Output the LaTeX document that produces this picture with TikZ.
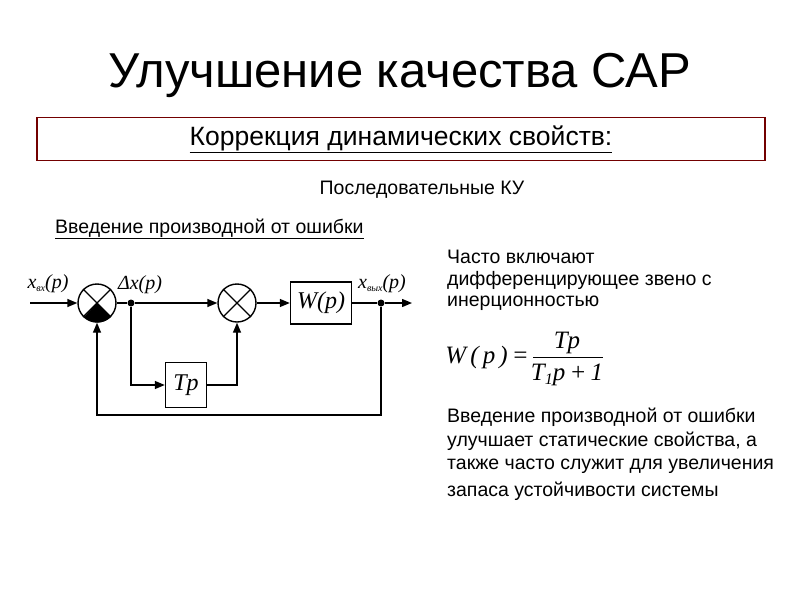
\documentclass[tikz,border=0pt]{standalone}
\usepackage{fontspec}
\setmainfont{Liberation Sans}
\newfontfamily\tms{Liberation Serif}
\usetikzlibrary{arrows.meta}
\begin{document}
\begin{tikzpicture}[x=1pt,y=-1pt,
  blk/.style={draw,line width=1.4pt,minimum width=#1,inner sep=0pt},
  sumc/.style={draw,circle,line width=1.4pt,minimum size=38pt,inner sep=0pt},
  ln/.style={line width=1.4pt},
  ar/.style={ln,-{Triangle[length=10pt,width=8pt]}},
  dotc/.style={circle,fill,inner sep=0pt,minimum size=7pt},
  fml/.style={font=\fontsize{25}{27}\selectfont\tms\itshape,inner sep=0pt},
  txt/.style={anchor=west,font=\fontsize{19.5}{22}\selectfont,inner sep=0pt}]
\useasboundingbox (0,0) rectangle (800,600);
\node[font=\fontsize{49}{52}\selectfont] (title) at (400,75) {Улучшение качества САР};
\node[draw=red!45!black,line width=1.5pt,minimum width=728pt,minimum height=43pt,font=\fontsize{26.5}{28}\selectfont] (box) at (401,139) {\underline{Коррекция динамических свойств:}};
\node[font=\fontsize{19.5}{22}\selectfont] (seq) at (422,190) {Последовательные КУ};
\node[txt] (intro) at (55,229) {\underline{Введение производной от ошибки}};
\node[txt] (l1) at (447,257) {Часто включают};
\node[txt] (l2) at (447,280) {дифференцирующее звено с};
\node[txt] (l3) at (447,303) {инерционностью};
\node[fml,anchor=east] (fl) at (529,357) {W\,(\,p\,)\,=};
\node[fml] (fn) at (567,343) {Tp};
\node[fml] (fd) at (567,375) {T\raisebox{-4pt}{\fontsize{16}{16}\selectfont 1}p\,+\,1};
\draw[line width=1pt] ([xshift=4pt]fl.east) -- (603,357);
\node[txt] (b1) at (447,417) {Введение производной от ошибки};
\node[txt] (b2) at (447,441) {улучшает статические свойства, а};
\node[txt] (b3) at (447,466) {также часто служит для увеличения};
\node[txt] (b4) at (447,491) {запаса устойчивости системы};
% diagram
\coordinate (in) at (30,303);
\node[sumc] (s1) at (97,303) {};
\fill (s1.center) -- (s1.-45) arc (-45:-135:19pt) -- cycle;
\draw[ln] (s1.45)--(s1.-135) (s1.135)--(s1.-45);
\node[sumc] (s2) at (237,303) {};
\draw[ln] (s2.45)--(s2.-135) (s2.135)--(s2.-45);
\node[blk=61pt,minimum height=42pt,font=\fontsize{24}{26}\selectfont\tms\itshape] (W) at (321,303) {W(p)};
\node[blk=41pt,minimum height=45pt,font=\fontsize{24}{26}\selectfont\tms\itshape] (T) at (186,385) {Tp};
\node[dotc] (d1) at (131,303) {};
\node[dotc] (d2) at (381,303) {};
\coordinate (out) at (412,303);
\coordinate (fb1) at (381,415);
\coordinate (fb2) at (97,415);
\draw[ar] (in) -- (s1);
\draw[ln] (s1) -- (d1);
\draw[ar] (d1) -- (s2);
\draw[ar] (s2) -- (W);
\draw[ln] (W) -- (d2);
\draw[ar] (d2) -- (out);
\draw[ar] (d1) |- (T);
\draw[ar] (T) -| (s2);
\draw[ar] (d2) -- (fb1) -- (fb2) -- (s1);
\node[font=\fontsize{20}{22}\selectfont\tms\itshape,inner sep=0pt] (lin) at (48,284) {x\raisebox{-3pt}{\fontsize{10}{10}\selectfont вх}(p)};
\node[font=\fontsize{20}{22}\selectfont\tms\itshape,inner sep=0pt] (ldx) at (140,285) {Δx(p)};
\node[font=\fontsize{20}{22}\selectfont\tms\itshape,inner sep=0pt] (lout) at (382,284) {x\raisebox{-3pt}{\fontsize{10}{10}\selectfont вых}(p)};
\end{tikzpicture}
\end{document}
